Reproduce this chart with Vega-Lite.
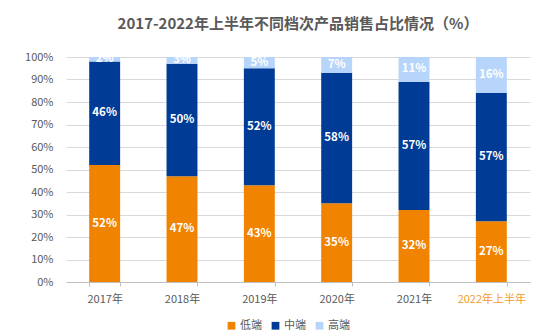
{
  "$schema": "https://vega.github.io/schema/vega-lite/v6.json",
  "autosize": "none",
  "width": 464,
  "height": 225,
  "padding": {"left": 66, "top": 57, "right": 24, "bottom": 53},
  "background": "white",
  "config": {
    "font": "Noto Sans CJK SC",
    "view": {"stroke": null}
  },
  "title": {
    "text": "2017-2022年上半年不同档次产品销售占比情况（%）",
    "fontSize": 15,
    "fontWeight": "bold",
    "color": "#595959",
    "anchor": "middle",
    "offset": 19
  },
  "data": {
    "values": [
      {"year": "2017年", "level": "低端", "ord": 1, "v": 52},
      {"year": "2017年", "level": "中端", "ord": 2, "v": 46},
      {"year": "2017年", "level": "高端", "ord": 3, "v": 2},
      {"year": "2018年", "level": "低端", "ord": 1, "v": 47},
      {"year": "2018年", "level": "中端", "ord": 2, "v": 50},
      {"year": "2018年", "level": "高端", "ord": 3, "v": 3},
      {"year": "2019年", "level": "低端", "ord": 1, "v": 43},
      {"year": "2019年", "level": "中端", "ord": 2, "v": 52},
      {"year": "2019年", "level": "高端", "ord": 3, "v": 5},
      {"year": "2020年", "level": "低端", "ord": 1, "v": 35},
      {"year": "2020年", "level": "中端", "ord": 2, "v": 58},
      {"year": "2020年", "level": "高端", "ord": 3, "v": 7},
      {"year": "2021年", "level": "低端", "ord": 1, "v": 32},
      {"year": "2021年", "level": "中端", "ord": 2, "v": 57},
      {"year": "2021年", "level": "高端", "ord": 3, "v": 11},
      {"year": "2022年上半年", "level": "低端", "ord": 1, "v": 27},
      {"year": "2022年上半年", "level": "中端", "ord": 2, "v": 57},
      {"year": "2022年上半年", "level": "高端", "ord": 3, "v": 16}
    ]
  },
  "transform": [
    {"stack": "v", "groupby": ["year"], "sort": [{"field": "ord"}], "as": ["y0", "y1"]},
    {"calculate": "(datum.y0 + datum.y1) / 2", "as": "ymid"},
    {"calculate": "datum.v + '%'", "as": "lab"}
  ],
  "encoding": {
    "x": {
      "field": "year",
      "type": "nominal",
      "sort": null,
      "scale": {"paddingInner": 0.6, "paddingOuter": 0.3},
      "axis": {
        "title": null,
        "labelAngle": 0,
        "labelFontSize": 11,
        "labelColor": {"condition": {"test": "datum.value == '2022年上半年'", "value": "#F39C2C"}, "value": "#595959"},
        "labelPadding": 7,
        "domainColor": "#BFBFBF",
        "tickColor": "#BFBFBF",
        "tickBand": "extent",
        "tickSize": 4,
        "grid": false
      }
    }
  },
  "layer": [
    {
      "mark": {"type": "bar"},
      "encoding": {
        "y": {
          "field": "y0",
          "type": "quantitative",
          "scale": {"domain": [0, 100], "nice": false},
          "axis": {
            "title": null,
            "values": [0, 10, 20, 30, 40, 50, 60, 70, 80, 90, 100],
            "labelExpr": "datum.value + '%'",
            "labelOverlap": false,
            "labelFontSize": 11,
            "labelColor": "#595959",
            "labelPadding": 13,
            "domain": false,
            "ticks": false,
            "gridColor": "#D9D9D9"
          }
        },
        "y2": {"field": "y1"},
        "color": {
          "field": "level",
          "type": "nominal",
          "sort": ["低端", "中端", "高端"],
          "scale": {"domain": ["低端", "中端", "高端"], "range": ["#F08300", "#003C96", "#B7D5FB"]},
          "legend": {
            "title": null,
            "orient": "none",
            "direction": "horizontal",
            "legendX": 160,
            "legendY": 263,
            "symbolType": "square",
            "symbolSize": 60,
            "symbolStrokeWidth": 0,
            "labelFontSize": 11,
            "labelColor": "#595959",
            "columnPadding": 8,
            "labelOffset": 3
          }
        }
      }
    },
    {
      "mark": {"type": "text", "color": "white", "fontWeight": "bold", "fontSize": 11.5, "baseline": "middle"},
      "encoding": {
        "y": {
          "field": "ymid",
          "type": "quantitative",
          "scale": {"domain": [0, 100], "nice": false},
          "axis": {
            "title": null,
            "values": [0, 10, 20, 30, 40, 50, 60, 70, 80, 90, 100],
            "labelExpr": "datum.value + '%'",
            "labelOverlap": false,
            "labelFontSize": 11,
            "labelColor": "#595959",
            "labelPadding": 13,
            "domain": false,
            "ticks": false,
            "gridColor": "#D9D9D9"
          }
        },
        "text": {"field": "lab"}
      }
    }
  ]
}
